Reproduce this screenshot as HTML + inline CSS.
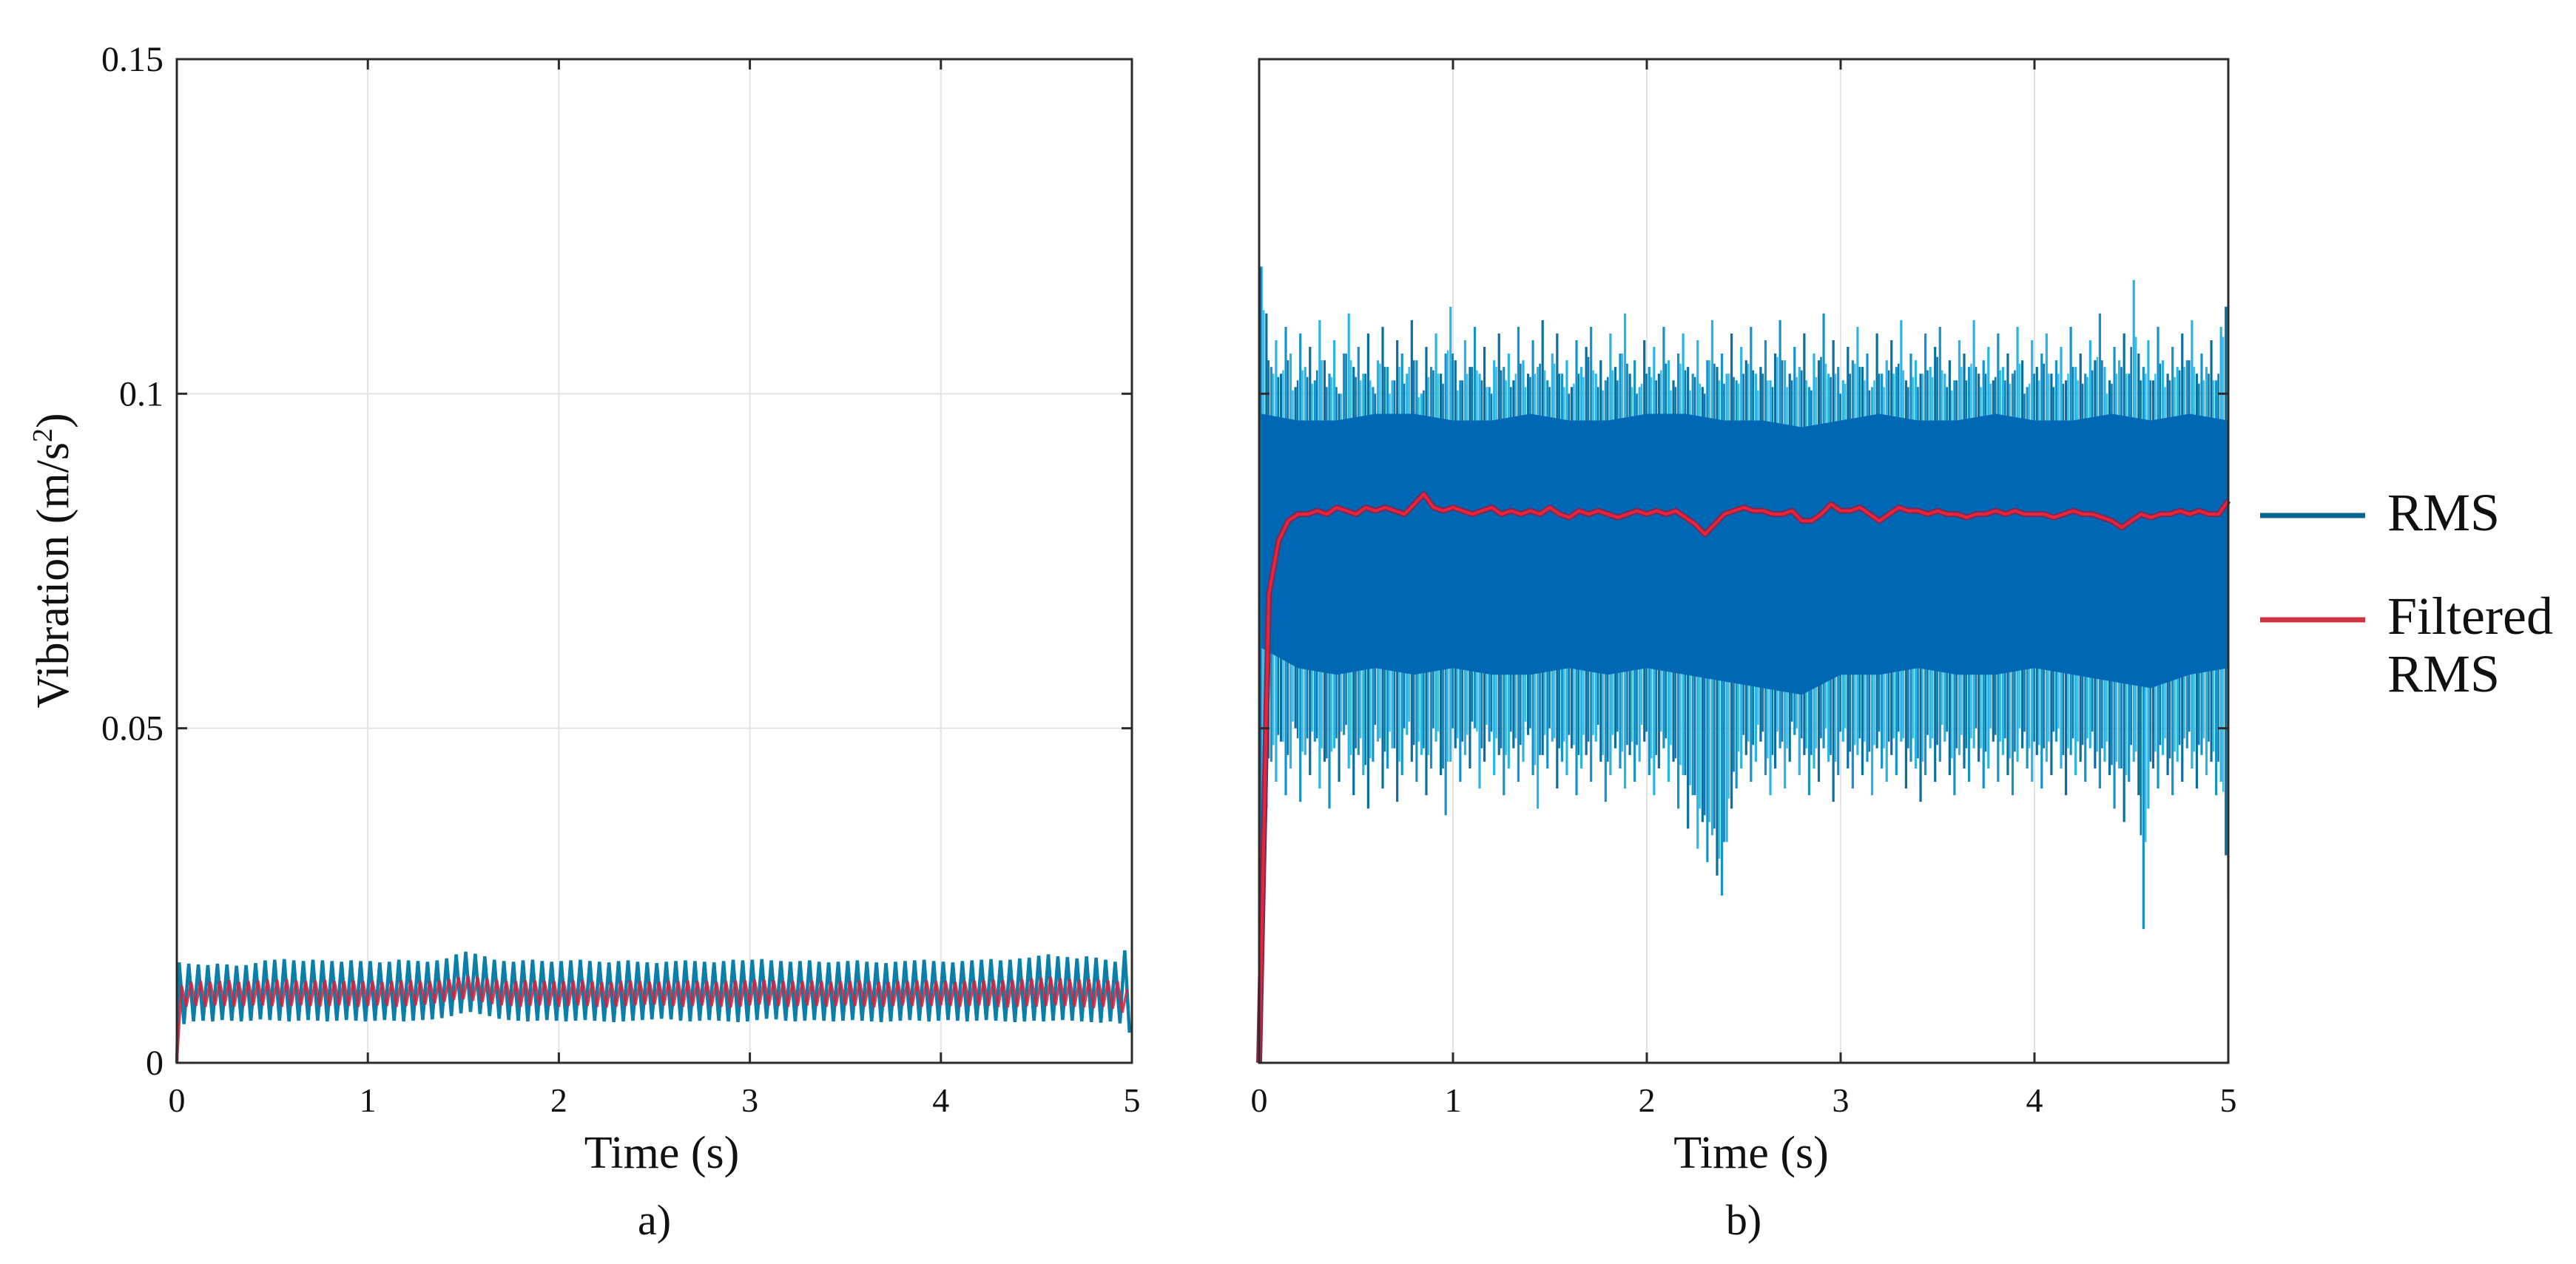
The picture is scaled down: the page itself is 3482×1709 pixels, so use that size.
<!DOCTYPE html>
<html><head><meta charset="utf-8">
<style>
html,body{margin:0;padding:0;background:#fff;}
svg{display:block;}
text{font-family:"Liberation Serif",serif;fill:#111;}
</style></head>
<body>
<svg id="fig" width="3482" height="1709" viewBox="0 0 3482 1709" xmlns="http://www.w3.org/2000/svg">
<rect width="3482" height="1709" fill="#fff"/>
<g id="pa"></g>
<g id="pb"></g>
<g id="legend">
  <line x1="3055" y1="697" x2="3197" y2="697" stroke="#0a6690" stroke-width="7"/>
  <text x="3227" y="717" font-size="72">RMS</text>
  <line x1="3055" y1="838" x2="3197" y2="838" stroke="#cf3240" stroke-width="7"/>
  <text x="3227" y="857" font-size="72">Filtered</text>
  <text x="3227" y="935" font-size="72">RMS</text>
</g>
</svg>
<script>
// ---- data (values in 1e-3 m/s^2) ----
const xTicks = [0,1,2,3,4,5];
const yTicks = [0,0.05,0.1,0.15];
const yTickLabels = ["0","0.05","0.1","0.15"];
// panel a: RMS oscillation peaks/troughs (100 cycles over 5 s)
const aPeaks = [15,14.8,14.7,14.6,14.8,14.7,14.5,14.6,14.9,15.3,15.4,15.5,15.3,15.2,15.4,15.3,15.2,15.1,15.3,15.2,15.2,15.0,15.1,15.4,15.3,15.2,15.1,15.3,15.6,16.2,16.6,16.3,15.9,15.4,15.2,15.1,15.3,15.4,15.2,15.1,15.2,15.3,15.4,15.2,15.1,15.0,15.2,15.3,15.1,15.0,14.9,15.1,15.2,15.3,15.2,15.1,15.0,15.2,15.4,15.3,15.4,15.5,15.3,15.2,15.1,15.2,15.3,15.1,15.0,15.1,15.2,15.3,15.1,15.0,14.9,15.1,15.2,15.3,15.4,15.2,15.1,15.0,15.2,15.3,15.4,15.5,15.3,15.4,15.6,15.7,16.0,16.2,15.9,15.8,15.6,15.9,15.7,15.4,15.1,16.8];
const aTroughs = [5.8,6.2,6.3,6.2,6.4,6.3,6.2,6.3,6.5,6.4,6.3,6.2,6.3,6.4,6.3,6.2,6.3,6.4,6.3,6.2,6.3,6.4,6.3,6.2,6.3,6.4,6.5,6.7,7.0,7.4,7.6,7.3,7.0,6.6,6.4,6.3,6.2,6.3,6.4,6.3,6.2,6.3,6.4,6.3,6.2,6.1,6.2,6.3,6.4,6.5,6.6,6.5,6.3,6.2,6.3,6.4,6.3,6.2,6.1,6.2,6.4,6.6,6.5,6.3,6.2,6.3,6.4,6.3,6.2,6.3,6.4,6.3,6.2,6.1,6.2,6.3,6.4,6.3,6.2,6.3,6.4,6.3,6.2,6.3,6.4,6.3,6.2,6.1,6.2,6.3,6.2,6.3,6.4,6.3,6.2,6.1,6.0,6.2,5.9,4.5];
const aFiltPeaks = [11.6,12.1,12.2,12.1,12.2,12.3,12.1,12.2,12.3,12.4,12.4,12.5,12.3,12.2,12.3,12.4,12.2,12.2,12.3,12.2,12.2,12.1,12.2,12.3,12.3,12.2,12.2,12.3,12.5,12.8,13.0,12.8,12.6,12.4,12.2,12.2,12.3,12.3,12.2,12.2,12.2,12.3,12.3,12.2,12.1,12.1,12.2,12.3,12.2,12.1,12.1,12.2,12.2,12.3,12.2,12.2,12.1,12.2,12.3,12.3,12.4,12.4,12.3,12.2,12.2,12.2,12.3,12.2,12.1,12.2,12.2,12.3,12.2,12.1,12.1,12.2,12.2,12.3,12.3,12.2,12.2,12.1,12.2,12.3,12.3,12.4,12.3,12.4,12.5,12.6,12.7,12.8,12.6,12.5,12.4,12.5,12.4,12.3,12.2,11.0];
const aFiltTroughs = [0,8.4,8.5,8.4,8.6,8.5,8.4,8.5,8.6,8.6,8.5,8.4,8.5,8.6,8.5,8.4,8.5,8.6,8.5,8.4,8.5,8.6,8.5,8.4,8.5,8.6,8.7,8.9,9.1,9.4,9.5,9.3,9.1,8.8,8.6,8.5,8.4,8.5,8.6,8.5,8.4,8.5,8.6,8.5,8.4,8.3,8.4,8.5,8.6,8.7,8.7,8.6,8.5,8.4,8.5,8.6,8.5,8.4,8.3,8.4,8.6,8.7,8.6,8.5,8.4,8.5,8.6,8.5,8.4,8.5,8.6,8.5,8.4,8.3,8.4,8.5,8.6,8.5,8.4,8.5,8.6,8.5,8.4,8.5,8.6,8.5,8.4,8.3,8.4,8.5,8.4,8.5,8.6,8.5,8.4,8.3,8.2,8.4,8.1,7.5];
// panel b: dense RMS band envelope (every 0.2 s)
const bBandTop = [97,96,96,97,97,96,96,97,96,96,97,97,96,96,95,96,97,96,96,97,96,96,97,96,97,96];
const bBandBottom = [62,59,58,59,58,59,58,58,59,58,59,58,57,56,55,58,58,59,58,58,59,58,57,56,58,59];
// panel b: spike extremes (every 0.025 s)
const bUpperSpikes = [119,112,104,108,103,110,106,101,109,104,107,102,111,105,103,108,100,106,112,104,107,103,109,101,105,110,104,102,108,106,103,111,105,100,107,104,109,103,106,113,105,102,108,104,110,103,107,101,105,109,104,106,102,110,105,103,108,104,111,102,106,109,103,105,101,108,104,107,110,103,105,102,109,104,106,112,103,105,101,108,104,107,103,110,105,102,106,109,104,103,108,101,105,111,104,106,103,109,102,107,105,110,103,104,108,102,106,111,105,103,107,104,109,101,106,105,112,103,108,104,102,107,105,110,104,106,101,109,103,105,108,104,111,102,106,105,103,109,104,107,110,103,105,102,108,106,104,111,103,105,107,102,109,104,106,103,110,105,101,108,104,106,109,103,105,107,102,110,104,106,103,108,105,112,104,102,107,105,109,103,117,106,104,108,102,110,105,103,107,104,109,105,111,103,106,104,108,102,110,113];
const bLowerSpikes = [10,38,45,42,48,40,44,50,39,46,43,48,41,45,38,47,42,49,44,40,46,43,38,45,48,41,44,47,39,43,49,45,42,46,40,44,48,43,37,45,47,42,46,44,50,41,45,48,43,46,40,44,47,42,45,49,43,38,46,44,48,41,45,43,47,40,44,46,42,48,45,39,43,47,44,41,46,42,45,48,43,40,44,47,42,45,38,43,35,40,32,36,30,34,28,25,33,38,41,44,46,42,45,48,43,40,44,47,41,45,49,43,46,40,44,42,47,45,39,43,48,44,41,46,43,45,40,47,44,42,46,43,48,41,45,44,39,43,47,42,45,48,43,40,46,44,42,47,45,41,44,48,42,46,43,40,45,47,44,42,46,41,45,43,48,44,40,46,43,45,42,47,44,41,45,43,38,44,36,42,45,40,20,38,44,41,46,43,40,45,42,47,44,41,46,43,45,40,42,31];
// panel b: filtered RMS (every 0.05 s)
const bFiltered = [0,70,78,81,82,82,82.5,82,83,82.5,82,83,82.5,83,82.5,82,83.5,85,83,82.5,83,82.5,82,82.5,83,82,82.5,82,82.5,82,83,82,81.5,82.5,82,82.5,82,81.5,82,82.5,82,82.5,82,82.5,81.5,80.5,79,80.5,82,82.5,83,82.5,82.5,82,82,82.5,81,81,82,83.5,82.5,82.5,83,82,81,82,83,82.5,82.5,82,82.5,82,82,81.5,82,82,82.5,82,82.5,82,82,82,81.5,82,82.5,82,82,81.5,81,80,81,82,81.5,82,82,82.5,82,82.5,82,82,84];

const NS="http://www.w3.org/2000/svg";
function mk(tag, parent, attrs){const e=document.createElementNS(NS,tag);for(const k in attrs)e.setAttribute(k,attrs[k]);parent.appendChild(e);return e;}

function makePanel(g, x0, x1, y0, y1){
  const sx = t => x0 + (t/5)*(x1-x0);
  const sy = v => y1 - (v/0.15)*(y1-y0);
  xTicks.forEach(t=>{ if(t>0&&t<5){const l=mk('line',g,{x1:sx(t),x2:sx(t),y1:y0,y2:y1,stroke:'#e3e3e3','stroke-width':2});
    
    }});
  yTicks.forEach(v=>{ if(v>0&&v<0.15){const l=mk('line',g,{x1:x0,x2:x1,y1:sy(v),y2:sy(v),stroke:'#e3e3e3','stroke-width':2});
    
    }});
  return {sx,sy};
}
function frame(g,x0,x1,y0,y1,sx,sy,showY,label){
  const r=mk('rect',g,{x:x0,y:y0,width:x1-x0,height:y1-y0,fill:'none',stroke:'#2b2b2b','stroke-width':3});
  
  
  xTicks.forEach((t,i)=>{
    mk('line',g,{x1:sx(t),x2:sx(t),y1:y1,y2:y1-14,stroke:'#2b2b2b','stroke-width':3});
    mk('line',g,{x1:sx(t),x2:sx(t),y1:y0,y2:y0+14,stroke:'#2b2b2b','stroke-width':3});
    const tx=mk('text',g,{x:sx(t),y:y1+66,'font-size':46,'text-anchor':'middle'});
    tx.textContent=String(t);
    
    
  });
  yTicks.forEach((v,i)=>{
    mk('line',g,{x1:x0,x2:x0+14,y1:sy(v),y2:sy(v),stroke:'#2b2b2b','stroke-width':3});
    mk('line',g,{x1:x1,x2:x1-14,y1:sy(v),y2:sy(v),stroke:'#2b2b2b','stroke-width':3});
    if(showY){
      const tx=mk('text',g,{x:x0-18,y:sy(v)+16,'font-size':48,'text-anchor':'end'});
      tx.textContent=yTickLabels[i];
      
      
    }
  });
  const xt=mk('text',g,{x:(x0+x1)/2+10,y:y1+142,'font-size':62,'text-anchor':'middle'});
  xt.textContent='Time (s)';
  
  
  const pl=mk('text',g,{x:(x0+x1)/2,y:y1+232,'font-size':58,'text-anchor':'middle'});
  pl.textContent=label;
  
  
}

// ---- Panel a ----
(function(){
  const g=document.getElementById('pa');
  const x0=239,x1=1530,y0=80,y1=1437;
  const {sx,sy}=makePanel(g,x0,x1,y0,y1);
  const n=aPeaks.length, dt=5/n;
  let pts=[[sx(0),sy(0)]];
  for(let i=0;i<n;i++){pts.push([sx(i*dt+dt*0.25),sy(aPeaks[i]/1000)]);pts.push([sx(i*dt+dt*0.75),sy(aTroughs[i]/1000)]);}
  const b=mk('polyline',g,{points:pts.map(p=>p.join(',')).join(' '),fill:'none',stroke:'#0a7fa9','stroke-width':4.5,'stroke-linejoin':'miter'});
  
  
  let rp=[];
  for(let i=0;i<n;i++){rp.push([sx(i*dt),sy(aFiltTroughs[i]/1000)]);rp.push([sx(i*dt+dt*0.5),sy(aFiltPeaks[i]/1000)]);}
  const r=mk('polyline',g,{points:rp.map(p=>p.join(',')).join(' '),fill:'none',stroke:'#d8203a','stroke-width':3.5,'stroke-opacity':0.85});
  
  
  frame(g,x0,x1,y0,y1,sx,sy,true,'a)');
  const yl=mk('text',g,{x:0,y:0,'font-size':62,'text-anchor':'middle',transform:'translate(92,758) rotate(-90)'});
  yl.innerHTML='Vibration (m/s<tspan dy="-22" font-size="38">2</tspan><tspan dy="22">)</tspan>';
  
  
})();

// ---- Panel b ----
(function(){
  const g=document.getElementById('pb');
  const x0=1702,x1=3012,y0=80,y1=1437;
  const {sx,sy}=makePanel(g,x0,x1,y0,y1);
  const n=bUpperSpikes.length, dt=5/n;
  for(let i=0;i<n;i++){
    const t=i*dt+dt*0.5;
    const c = i%3===0?'#2ab4e4':(i%3===1?'#0a6f9f':'#1593c9');
    const l=mk('line',g,{x1:sx(t),x2:sx(t),y1:sy(bLowerSpikes[i]/1000),y2:sy(bUpperSpikes[i]/1000),stroke:c,'stroke-width':3.2});
    
    
    const t2=t+dt*0.5*0.9;
    const l2=mk('line',g,{x1:sx(t2),x2:sx(t2),y1:sy((bLowerSpikes[i]+bLowerSpikes[(i+1)%n])/2000+0.004),y2:sy((bUpperSpikes[i]+bUpperSpikes[(i+1)%n])/2000-0.003),stroke:(i%2?'#0d78ad':'#3bbde8'),'stroke-width':2.5});
    
    
  }
  const m=bBandTop.length, bdt=5/(m-1);
  let poly=[];
  for(let i=0;i<m;i++)poly.push([sx(Math.max(i*bdt,0.012)),sy(bBandTop[i]/1000)]);
  for(let i=m-1;i>=0;i--)poly.push([sx(Math.max(i*bdt,0.012)),sy(bBandBottom[i]/1000)]);
  const band=mk('polygon',g,{points:poly.map(p=>p.join(',')).join(' '),fill:'#0067b4'});
  
  
  const s0=mk('line',g,{x1:sx(0.004),x2:sx(0.004),y1:sy(0),y2:sy(0.119),stroke:'#0a6fa8','stroke-width':4});
  
  
  const fdt=5/(bFiltered.length-1);
  const fp=bFiltered.map((v,i)=>[sx(i*fdt),sy(v/1000)]);
  const fo=mk('polyline',g,{points:fp.map(p=>p.join(',')).join(' '),fill:'none',stroke:'#7a2a55','stroke-width':8,'stroke-linejoin':'round'});
  
  
  const f=mk('polyline',g,{points:fp.map(p=>p.join(',')).join(' '),fill:'none',stroke:'#e8243a','stroke-width':4,'stroke-linejoin':'round'});
  
  
  frame(g,x0,x1,y0,y1,sx,sy,false,'b)');
})();
</script>
</body></html>
